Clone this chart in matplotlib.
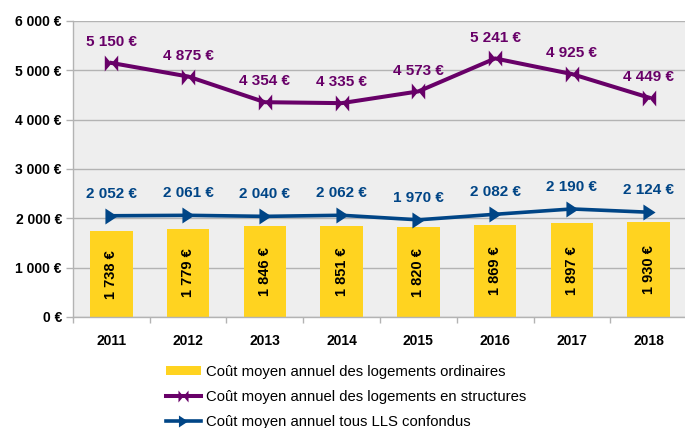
import matplotlib
matplotlib.use("Agg")
import matplotlib.pyplot as plt
from matplotlib.path import Path
from matplotlib.ticker import FixedLocator, FuncFormatter
import numpy as np

years = ["2011", "2012", "2013", "2014", "2015", "2016", "2017", "2018"]
ordinaires = [1738, 1779, 1846, 1851, 1820, 1869, 1897, 1930]
structures = [5150, 4875, 4354, 4335, 4573, 5241, 4925, 4449]
tous = [2052, 2061, 2040, 2062, 1970, 2082, 2190, 2124]
yticks = [0, 1000, 2000, 3000, 4000, 5000, 6000]
legend_labels = ["Coût moyen annuel des logements ordinaires",
                 "Coût moyen annuel des logements en structures",
                 "Coût moyen annuel tous LLS confondus"]

YELLOW = "#FFD320"
PURPLE = "#680068"
BLUE = "#004586"
GRID = "#b3b3b3"

plt.rcParams['font.family'] = ['Liberation Sans', 'DejaVu Sans']

def fmt(v):
    return f"{v:,}".replace(",", " ") + " €"

bowtie = Path([(-0.42, 0.5), (0, 0), (-0.42, -0.5), (-0.42, 0.5),
               (0.42, 0.5), (0, 0), (0.42, -0.5), (0.42, 0.5)],
              [Path.MOVETO, Path.LINETO, Path.LINETO, Path.CLOSEPOLY,
               Path.MOVETO, Path.LINETO, Path.LINETO, Path.CLOSEPOLY])
arrow = Path([(-0.38, 0.5), (0.38, 0), (-0.38, -0.5), (-0.38, 0.5)],
             [Path.MOVETO, Path.LINETO, Path.LINETO, Path.CLOSEPOLY])

W, H = 685, 428
fig = plt.figure(figsize=(W / 100, H / 100), dpi=100)
ax = fig.add_axes([73 / W, (H - 317) / H, (687 - 73) / W, (317 - 21) / H])
ax.set_facecolor("#eeeeee")

x = np.arange(len(years))
h_bar = ax.bar(x, ordinaires, width=0.557, color=YELLOW, zorder=2)
h_str, = ax.plot(x, structures, color=PURPLE, lw=2.9, marker=bowtie,
                 markersize=11.5, markeredgewidth=0, zorder=4)
h_tous, = ax.plot(x, tous, color=BLUE, lw=2.6, marker=arrow, markersize=11.5,
                  markeredgewidth=0, zorder=4)

for xi, v in zip(x, ordinaires):
    ax.text(xi, v / 2, fmt(v), rotation=90, ha="center", va="center",
            fontsize=10.5, fontweight="bold", color="black", zorder=5)
for xi, v in zip(x, structures):
    ax.annotate(fmt(v), (xi, v), xytext=(0, 15), textcoords="offset points",
                ha="center", va="center", fontsize=11, fontweight="bold",
                color=PURPLE, zorder=5)
for xi, v in zip(x, tous):
    ax.annotate(fmt(v), (xi, v), xytext=(0, 16), textcoords="offset points",
                ha="center", va="center", fontsize=11, fontweight="bold",
                color=BLUE, zorder=5)

ax.set_xlim(-0.5, len(years) - 0.5)
ax.set_ylim(0, 6000)
ax.set_yticks(yticks)
ax.yaxis.set_major_formatter(FuncFormatter(lambda v, p: fmt(int(v))))
ax.grid(axis="y", color=GRID, lw=1, zorder=1)
ax.set_axisbelow(True)

ax.set_xticks(x)
ax.set_xticklabels(years, fontweight="bold", fontsize=10)
ax.xaxis.set_minor_locator(FixedLocator(np.arange(-0.5, len(years) + 0.5, 1)))
ax.tick_params(axis="x", which="major", length=0, pad=12)
ax.tick_params(axis="x", which="minor", length=4, color=GRID, width=1)
ax.tick_params(axis="y", length=5, color=GRID, width=1, pad=3, labelsize=10)
for lab in ax.get_yticklabels():
    lab.set_fontweight("bold")

for s in ["top", "right"]:
    ax.spines[s].set_visible(False)
for s in ["left", "bottom"]:
    ax.spines[s].set_color(GRID)
    ax.spines[s].set_linewidth(1)

fig.legend([h_bar, h_str, h_tous], legend_labels, numpoints=1, markerscale=0.75,
           loc="upper left", bbox_to_anchor=(166 / W, 1 - 365 / H),
           frameon=False, fontsize=10.7, handlelength=2.35, handleheight=0.6,
           handletextpad=0.35, labelspacing=0.74, borderaxespad=0,
           borderpad=0)

fig.savefig("out.png", dpi=100)
